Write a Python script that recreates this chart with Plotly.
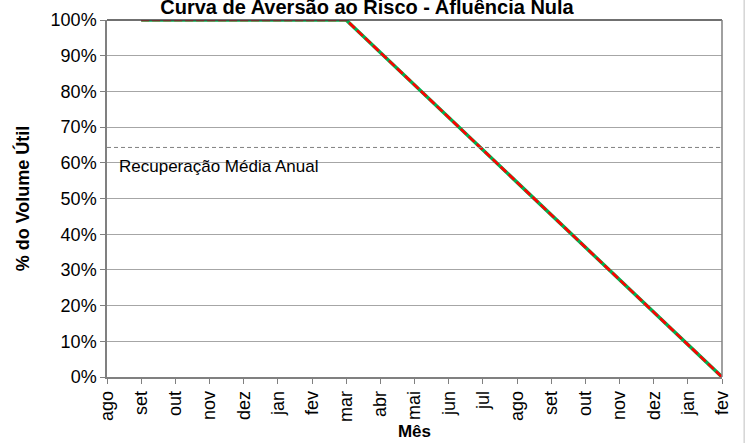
import plotly.graph_objects as go

months = ["ago", "set", "out", "nov", "dez", "jan", "fev", "mar", "abr", "mai",
          "jun", "jul", "ago", "set", "out", "nov", "dez", "jan", "fev"]
curva_verde = [None, 100, 100, 100, 100, 100, 100, 100, 90.9, 81.8, 72.7, 63.6,
               54.5, 45.5, 36.4, 27.3, 18.2, 9.1, 0]
curva_vermelha = [None, 100, 100, 100, 100, 100, 100, 100, 90.9, 81.8, 72.7, 63.6,
                  54.5, 45.5, 36.4, 27.3, 18.2, 9.1, 0]
recuperacao_media = 64.3
y_ticks = [0, 10, 20, 30, 40, 50, 60, 70, 80, 90, 100]

FONT = "Liberation Sans, Arial, sans-serif"
xs = list(range(len(months)))

fig = go.Figure()
fig.add_trace(go.Scatter(x=xs, y=curva_verde, mode="lines",
                         line=dict(color="#00B050", width=3.5), showlegend=False))
fig.add_trace(go.Scatter(x=xs, y=curva_vermelha, mode="lines",
                         line=dict(color="#FF0000", width=2.6, dash="8px,3px"), showlegend=False))

fig.add_shape(type="line", xref="paper", x0=0, x1=1, yref="y",
              y0=recuperacao_media, y1=recuperacao_media,
              line=dict(color="#808080", width=1, dash="4px,3px"))
fig.add_annotation(xref="paper", x=0.016, y=recuperacao_media - 5.3, yref="y",
                   text="Recuperação Média Anual", showarrow=False, xanchor="left",
                   font=dict(family=FONT, size=17, color="black"))
# outer chart border
fig.add_shape(type="rect", xref="paper", yref="paper", x0=-0.2, x1=1.036, y0=-0.5, y1=1.1,
              line=dict(color="#BFBFBF", width=1), layer="below")

fig.update_layout(
    width=748, height=443,
    margin=dict(l=107, r=26, t=20, b=66),
    paper_bgcolor="white", plot_bgcolor="white",
    title=dict(text="<b>Curva de Aversão ao Risco - Afluência Nula</b>",
               x=367 / 748, xref="container", xanchor="center",
               y=1 - 7 / 443, yref="container", yanchor="middle",
               font=dict(family=FONT, size=20, color="black")),
    xaxis=dict(range=[0, 18], tickmode="array", tickvals=xs, ticktext=months,
               tickangle=-90, ticks="outside", ticklen=5, tickcolor="#808080",
               showgrid=False, showline=True, linecolor="#808080", linewidth=1.5,
               mirror=False, zeroline=False, automargin=False,
               tickfont=dict(family=FONT, size=18, color="black"),
               title=dict(text="<b>Mês</b>", standoff=4,
                          font=dict(family=FONT, size=17, color="black"))),
    yaxis=dict(range=[0, 100], tickmode="array", tickvals=y_ticks,
               ticktext=[f"{v}%" for v in y_ticks],
               ticks="outside", ticklen=5, tickcolor="#808080",
               showgrid=True, gridcolor="#A6A6A6", gridwidth=1,
               showline=True, linecolor="#808080", linewidth=1.5, zeroline=False,
               automargin=False,
               tickfont=dict(family=FONT, size=18, color="black"),
               title=dict(text="<b>% do Volume Útil</b>", standoff=16,
                          font=dict(family=FONT, size=18, color="black"))),
)
# top and right plot borders
fig.add_shape(type="line", xref="paper", yref="paper", x0=0, x1=1, y0=1, y1=1,
              line=dict(color="#404040", width=1.5))
fig.add_shape(type="line", xref="paper", yref="paper", x0=1, x1=1, y0=0, y1=1,
              line=dict(color="#808080", width=1.5))

fig.write_html("out.html", config={"displayModeBar": False},
               post_script="document.body.style.margin='0px';document.body.style.overflow='hidden';")
